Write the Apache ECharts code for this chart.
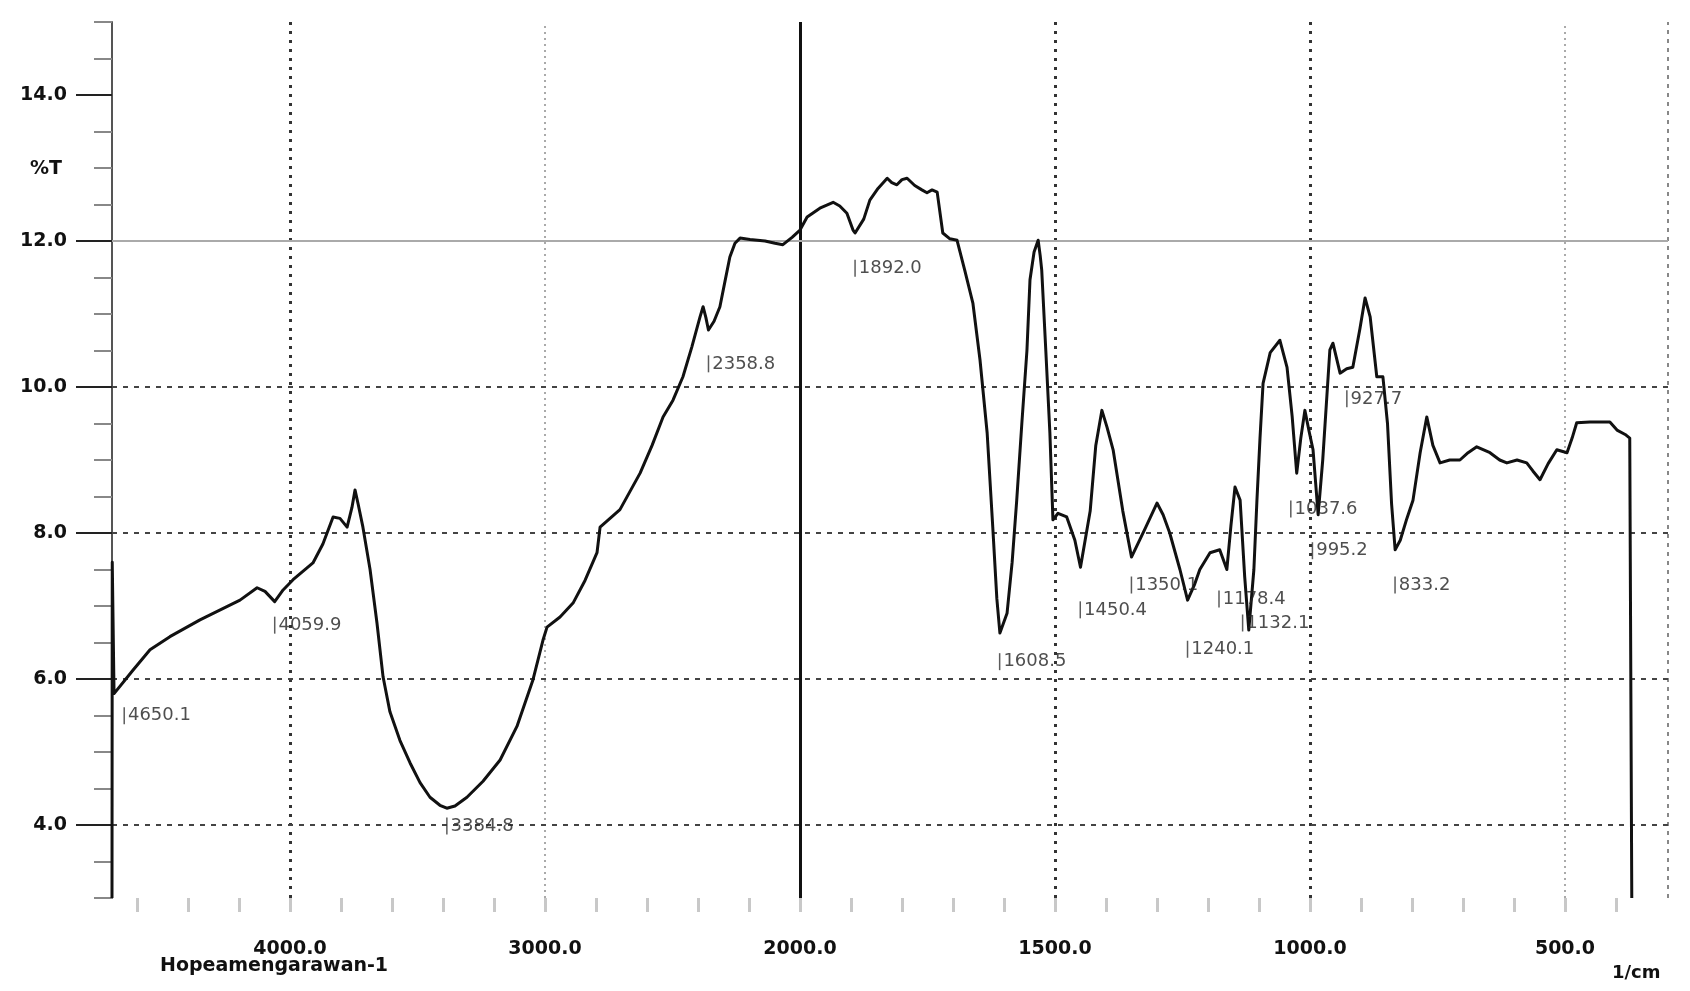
<!DOCTYPE html>
<html>
<head>
<meta charset="utf-8">
<script src="https://cdn.jsdelivr.net/npm/echarts@6/dist/echarts.min.js"></script>
<style>
html,body{margin:0;padding:0;background:#fff;}
#chart{width:1690px;height:991px;}
</style>
</head>
<body>
<div id="chart"></div>
<script>
// ---- data (wavenumber in 1/cm, transmittance %T) ----
const wavenumber = [4698,4697,4690,4616,4549,4471,4353,4196,4129,4098,4060,4027,3988,3910,3871,3831,3804,3776,3757,3745,3733,3714,3686,3659,3635,3608,3569,3529,3490,3451,3412,3385,3353,3306,3243,3176,3110,3047,3008,2992,2941,2890,2843,2796,2784,2706,2627,2580,2537,2498,2459,2424,2392,2380,2369,2359,2337,2314,2294,2275,2255,2235,2196,2137,2098,2067,2031,2000,1986,1961,1935,1922,1908,1896,1892,1875,1863,1847,1829,1820,1810,1800,1790,1775,1761,1751,1741,1731,1720,1706,1692,1677,1661,1647,1633,1622,1614,1608,1594,1584,1575,1565,1555,1549,1541,1533,1529,1526,1518,1510,1504,1494,1477,1461,1450,1431,1420,1408,1398,1386,1367,1350,1324,1300,1288,1275,1255,1240,1226,1216,1196,1177,1163,1155,1147,1137,1128,1120,1110,1104,1098,1092,1078,1059,1045,1035,1026,1018,1010,1002,994,984,975,961,955,941,928,916,902,892,882,869,857,848,840,833,823,810,798,784,771,759,745,726,706,690,673,647,628,614,594,575,563,549,533,516,496,486,477,451,412,398,382,373,369];
const transmittance = [3.0,7.6,5.8,6.12,6.40,6.58,6.81,7.08,7.25,7.20,7.06,7.22,7.36,7.59,7.85,8.22,8.20,8.08,8.35,8.59,8.40,8.08,7.50,6.77,6.03,5.55,5.16,4.85,4.58,4.38,4.27,4.23,4.26,4.38,4.60,4.89,5.35,5.99,6.53,6.71,6.85,7.04,7.35,7.73,8.08,8.32,8.82,9.20,9.59,9.82,10.14,10.55,10.96,11.10,10.95,10.78,10.90,11.10,11.45,11.78,11.97,12.04,12.02,12.00,11.97,11.95,12.05,12.15,12.33,12.45,12.53,12.48,12.38,12.15,12.11,12.30,12.56,12.72,12.86,12.80,12.77,12.84,12.86,12.76,12.70,12.66,12.70,12.67,12.11,12.03,12.01,11.60,11.15,10.37,9.37,8.08,7.10,6.63,6.90,7.60,8.45,9.50,10.50,11.47,11.85,12.01,11.80,11.60,10.50,9.37,8.18,8.27,8.22,7.90,7.53,8.30,9.20,9.68,9.45,9.14,8.30,7.67,8.05,8.41,8.25,8.00,7.50,7.08,7.30,7.50,7.73,7.77,7.50,8.10,8.63,8.45,7.40,6.67,7.50,8.45,9.30,10.05,10.47,10.64,10.27,9.60,8.82,9.30,9.68,9.40,9.14,8.25,9.00,10.51,10.60,10.19,10.25,10.27,10.80,11.22,10.96,10.14,10.14,9.50,8.40,7.77,7.90,8.20,8.45,9.10,9.59,9.20,8.96,9.00,9.00,9.10,9.18,9.10,9.00,8.96,9.00,8.96,8.85,8.73,8.95,9.14,9.10,9.30,9.51,9.52,9.52,9.41,9.35,9.30,3.0];

const peakLabels = ['4650.1','4059.9','3384.8','2358.8','1892.0','1608.5','1450.4','1350.1','1240.1','1178.4','1132.1','1037.6','995.2','927.7','833.2'];
const peakLabelY = [5.47,6.71,3.96,10.29,11.6,6.21,6.92,7.26,6.38,7.07,6.74,8.30,7.73,9.81,7.26];

const xTickLabels = [4000,3000,2000,1500,1000,500];
const yTickLabels = [4,6,8,10,12,14];

// Instrument scale: above 2000 1/cm the axis is compressed 2x
function toU(w){ return w >= 2000 ? 2000 + (w - 2000) / 2 : w; }
function fromU(u){ return u >= 2000 ? 2000 + (u - 2000) * 2 : u; }

const curve = wavenumber.map((w, i) => [toU(w), transmittance[i]]);
const peaks = peakLabels.map((t, i) => ({ value: [toU(parseFloat(t)), peakLabelY[i]], name: t }));

const minorX = [];
for (let u = 400; u <= 3300; u += 100) minorX.push(u);

const FONT = 'DejaVu Sans';
const darkDot = { color: '#333', width: 3, type: [3, 6] };
const lightDot = { color: '#aaa', width: 2, type: [2, 4] };
const hDash = { color: '#444', width: 2, type: [5, 6] };

const chart = echarts.init(document.getElementById('chart'), null, { renderer: 'canvas' });
chart.setOption({
  animation: false,
  backgroundColor: '#fff',
  grid: { left: 112, right: 22, top: 22, bottom: 93 },
  xAxis: {
    type: 'value', inverse: true, min: 298, max: 3349,
    axisLine: { show: false },
    splitLine: { show: false },
    axisTick: { show: true, customValues: minorX, length: 14, lineStyle: { color: '#c8c8c8', width: 3 } },
    axisLabel: {
      customValues: xTickLabels.map(toU),
      formatter: v => fromU(v).toFixed(1),
      fontFamily: FONT, fontWeight: 'bold', fontSize: 19, color: '#111', margin: 42
    }
  },
  yAxis: [
    {
      type: 'value', min: 3, max: 15, interval: 0.5,
      axisLine: { show: true, lineStyle: { color: '#555', width: 2 } },
      axisTick: { show: true, length: 18, lineStyle: { color: '#888', width: 2 } },
      axisLabel: { show: false },
      splitLine: { show: false }
    },
    {
      type: 'value', min: 3, max: 15, position: 'left',
      axisLine: { show: false },
      axisTick: { show: true, customValues: yTickLabels, length: 36, lineStyle: { color: '#222', width: 2 } },
      axisLabel: {
        customValues: yTickLabels, formatter: v => v.toFixed(1),
        fontFamily: FONT, fontWeight: 'bold', fontSize: 19, color: '#111', margin: 45
      },
      splitLine: { show: false }
    }
  ],
  graphic: [
    { type: 'text', left: 30, top: 160, style: { text: '%T', font: 'bold 19px "DejaVu Sans"', fill: '#111' } },
    { type: 'text', left: 160, top: 957, style: { text: 'Hopeamengarawan-1', font: 'bold 19px "DejaVu Sans"', fill: '#111' } },
    { type: 'text', left: 1612, top: 964, style: { text: '1/cm', font: 'bold 18px "DejaVu Sans"', fill: '#111' } }
  ],
  series: [
    {
      type: 'line', data: curve, showSymbol: false, symbol: 'none', z: 5,
      smooth: false,
      lineStyle: { color: '#111', width: 3, join: 'round' },
      markLine: {
        silent: true, symbol: 'none', label: { show: false }, z: 1,
        data: [
          { xAxis: toU(4000), lineStyle: darkDot },
          { xAxis: toU(3000), lineStyle: lightDot },
          { xAxis: toU(2000), lineStyle: { color: '#111', width: 3, type: 'solid' } },
          { xAxis: toU(1500), lineStyle: darkDot },
          { xAxis: toU(1000), lineStyle: darkDot },
          { xAxis: toU(500), lineStyle: lightDot },
          { xAxis: 298, lineStyle: { color: '#888', width: 2, type: [4, 5] } },
          { yAxis: 4, lineStyle: hDash },
          { yAxis: 6, lineStyle: hDash },
          { yAxis: 8, lineStyle: hDash },
          { yAxis: 10, lineStyle: hDash },
          { yAxis: 12, lineStyle: { color: '#aaa', width: 2, type: 'solid' } }
        ]
      }
    },
    {
      type: 'scatter', data: peaks, z: 6,
      symbol: 'rect', symbolSize: [1.5, 17], symbolOffset: [0, -2],
      itemStyle: { color: '#333' },
      label: {
        show: true, position: 'right', distance: 3,
        formatter: p => p.name,
        fontFamily: FONT, fontSize: 18, color: '#222'
      }
    }
  ]
});
</script>
</body>
</html>
